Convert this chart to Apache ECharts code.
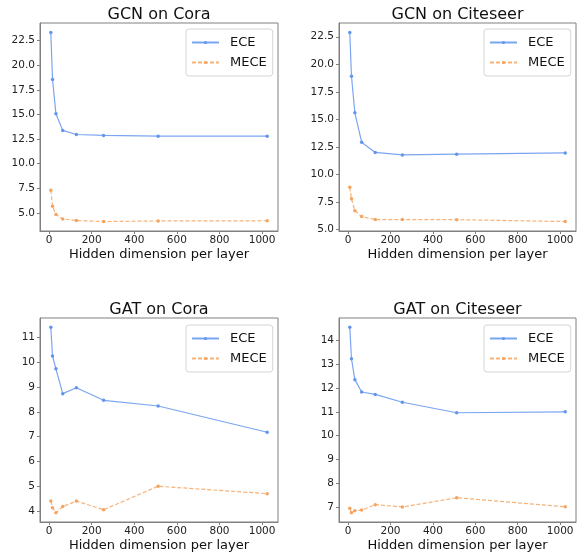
<!DOCTYPE html>
<html><head><meta charset="utf-8">
<script src="https://cdn.jsdelivr.net/npm/echarts@6/dist/echarts.min.js"></script>
<style>html,body{margin:0;padding:0;background:#fff}#c{width:580px;height:553px}</style>
</head><body><div id="c"></div>
<script>
const hiddenDims = [8, 16, 32, 64, 128, 256, 512, 1024];
const titles = ['GCN on Cora', 'GCN on Citeseer', 'GAT on Cora', 'GAT on Citeseer'];
const eceGcnCora = [23.34, 18.56, 15.07, 13.38, 12.97, 12.87, 12.8, 12.8];
const meceGcnCora = [7.3, 5.67, 4.83, 4.39, 4.22, 4.12, 4.18, 4.2];
const eceGcnCiteseer = [22.89, 18.92, 15.6, 12.93, 12.0, 11.78, 11.84, 11.96];
const meceGcnCiteseer = [8.84, 7.79, 6.72, 6.18, 5.91, 5.91, 5.9, 5.73];
const eceGatCora = [11.42, 10.26, 9.74, 8.74, 8.98, 8.47, 8.24, 7.18];
const meceGatCora = [4.4, 4.13, 3.93, 4.18, 4.4, 4.05, 5.0, 4.7];
const eceGatCiteseer = [14.55, 13.23, 12.35, 11.83, 11.73, 11.4, 10.96, 11.0];
const meceGatCiteseer = [6.95, 6.76, 6.84, 6.87, 7.1, 7.0, 7.39, 7.01];
const xTicks = [0, 200, 400, 600, 800, 1000];
const yTicksGcnCora = [5, 7.5, 10, 12.5, 15, 17.5, 20, 22.5];
const yTicksGcnCiteseer = [5, 7.5, 10, 12.5, 15, 17.5, 20, 22.5];
const yTicksGatCora = [4, 5, 6, 7, 8, 9, 10, 11];
const yTicksGatCiteseer = [7, 8, 9, 10, 11, 12, 13, 14];
const xName = 'Hidden dimension per layer';
const seriesNames = ['ECE', 'MECE'];

const panels = [
  {ece: eceGcnCora, mece: meceGcnCora, ticks: yTicksGcnCora, dec: 1},
  {ece: eceGcnCiteseer, mece: meceGcnCiteseer, ticks: yTicksGcnCiteseer, dec: 1},
  {ece: eceGatCora, mece: meceGatCora, ticks: yTicksGatCora, dec: 0},
  {ece: eceGatCiteseer, mece: meceGatCiteseer, ticks: yTicksGatCiteseer, dec: 0}
];
const gridPos = [
  {left: 40, top: 23, width: 238, height: 208},
  {left: 339, top: 23, width: 237, height: 208},
  {left: 40, top: 318, width: 238, height: 208},
  {left: 339, top: 318, width: 237, height: 208}
];
const legendPos = [{left: 186, top: 29}, {left: 484, top: 29}, {left: 186, top: 325}, {left: 484, top: 325}];

const FONT = 'DejaVu Sans';
const AX = '#808080';
const BLUE = '#6495ED', ORANGE = '#F4A460';

function margins(arr) {
  const mn = Math.min(...arr), mx = Math.max(...arr), d = (mx - mn) * 0.05;
  return [mn - d, mx + d];
}
const xr = margins(hiddenDims);

const option = {
  animation: false,
  backgroundColor: '#fff',
  title: [], grid: [], xAxis: [], yAxis: [], legend: [], series: []
};

panels.forEach((p, i) => {
  const g = gridPos[i];
  const yr = margins(p.ece.concat(p.mece));
  option.grid.push(Object.assign({show: true, borderColor: AX, borderWidth: 1, backgroundColor: 'transparent'}, g));
  option.title.push({
    text: titles[i], left: g.left + g.width / 2, textAlign: 'center', top: g.top - 16, padding: 0,
    textStyle: {fontFamily: FONT, fontSize: 16, fontWeight: 'normal', color: '#111'}
  });
  option.xAxis.push({
    type: 'value', gridIndex: i, min: xr[0], max: xr[1],
    name: xName, nameLocation: 'middle', nameGap: 17,
    nameTextStyle: {fontFamily: FONT, fontSize: 13, color: '#111', verticalAlign: 'top'},
    axisLine: {show: true, onZero: false, lineStyle: {color: AX}},
    axisTick: {show: true, length: 3, inside: false, customValues: xTicks, lineStyle: {color: AX}},
    axisLabel: {customValues: xTicks, fontFamily: FONT, fontSize: 10.5, color: '#222', margin: 4,
      formatter: v => String(Math.round(v))},
    splitLine: {show: false}
  });
  option.yAxis.push({
    type: 'value', gridIndex: i, min: yr[0], max: yr[1],
    axisLine: {show: true, onZero: false, lineStyle: {color: AX}},
    axisTick: {show: true, length: 3, customValues: p.ticks, lineStyle: {color: AX}},
    axisLabel: {customValues: p.ticks, fontFamily: FONT, fontSize: 10.5, color: '#222', margin: 5,
      formatter: v => Number(v).toFixed(p.dec)},
    splitLine: {show: false}
  });
  option.legend.push(Object.assign({
    orient: 'vertical', data: seriesNames, itemWidth: 27, itemHeight: 4, itemGap: 7,
    padding: [7, 6, 7, 5], backgroundColor: 'rgba(255,255,255,0.8)', borderColor: '#d5d5d5',
    borderWidth: 1, borderRadius: 3, selectedMode: false,
    formatter: n => '{t|' + n + '}',
    textStyle: {fontFamily: FONT, fontSize: 13, color: '#111',
      rich: {t: {fontFamily: FONT, fontSize: 13, color: '#111', padding: [0, 0, 0, 6], lineHeight: 15}}}
  }, legendPos[i]));
  option.series.push({
    name: 'ECE', type: 'line', xAxisIndex: i, yAxisIndex: i,
    data: hiddenDims.map((x, k) => [x, p.ece[k]]),
    symbol: 'circle', symbolSize: 3.5, color: BLUE,
    lineStyle: {width: 1.2, color: BLUE, opacity: 0.85}, itemStyle: {color: BLUE}
  });
  option.series.push({
    name: 'MECE', type: 'line', xAxisIndex: i, yAxisIndex: i,
    data: hiddenDims.map((x, k) => [x, p.mece[k]]),
    symbol: 'circle', symbolSize: 3.5, color: ORANGE,
    lineStyle: {width: 1.2, color: ORANGE, type: [4, 2], opacity: 0.85}, itemStyle: {color: ORANGE}
  });
});

const chart = echarts.init(document.getElementById('c'), null, {renderer: 'canvas'});
chart.setOption(option);
</script>
</body></html>
